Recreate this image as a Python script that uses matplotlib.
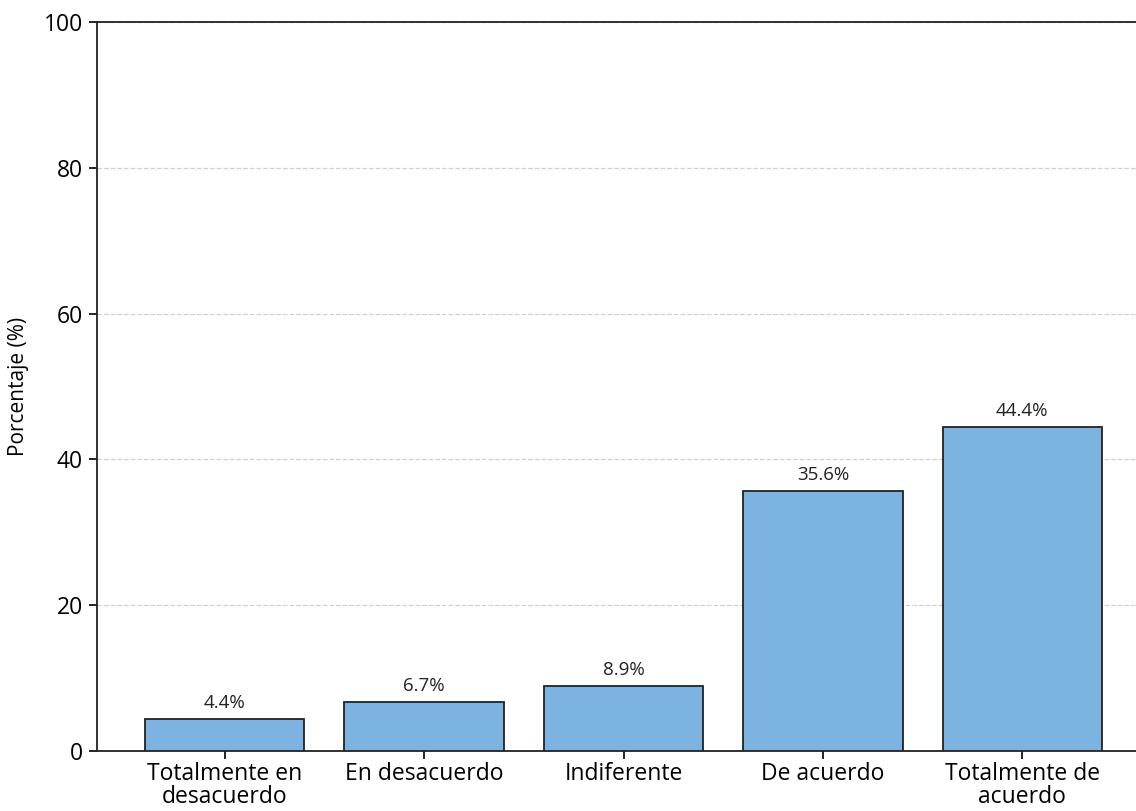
import matplotlib
matplotlib.use("Agg")
import matplotlib.pyplot as plt

categories = ["Totalmente en\ndesacuerdo", "En desacuerdo", "Indiferente", "De acuerdo", "Totalmente de\nacuerdo"]
values = [4.4, 6.7, 8.9, 35.6, 44.4]
value_labels = ["4.4%", "6.7%", "8.9%", "35.6%", "44.4%"]
yticks = [0, 20, 40, 60, 80, 100]

plt.rcParams['font.family'] = ['Open Sans', 'DejaVu Sans']

W, H = 1136, 811
fig = plt.figure(figsize=(W / 100, H / 100), dpi=100)
left, right = 97, 1150
top, bottom = 22, 751
ax = fig.add_axes([left / W, (H - bottom) / H, (right - left) / W, (bottom - top) / H])

x = list(range(len(categories)))
ax.bar(x, values, width=0.8, color="#7db3e0", edgecolor="#222222", linewidth=1.3, zorder=3)
for xi, v, lab in zip(x, values, value_labels):
    ax.text(xi, v + 1.0, lab, ha="center", va="bottom", fontsize=13.5, color="#222222")

ax.set_ylim(0, 100)
ax.set_xlim(-0.64, 4.64)
ax.set_yticks(yticks)
ax.set_xticks(x)
ax.set_xticklabels(categories, fontsize=16.5, linespacing=0.95)
ax.tick_params(axis="y", labelsize=16.5, length=6, width=1.2, pad=4)
ax.tick_params(axis="x", length=6, width=1.2, pad=2)
ax.set_ylabel("Porcentaje (%)", fontsize=15, labelpad=11)
ax.grid(axis="y", linestyle="--", color="#d0d0d0", linewidth=0.9, zorder=0)
for s in ax.spines.values():
    s.set_linewidth(1.3)
    s.set_color("#222222")

fig.savefig("out.png", dpi=100)
